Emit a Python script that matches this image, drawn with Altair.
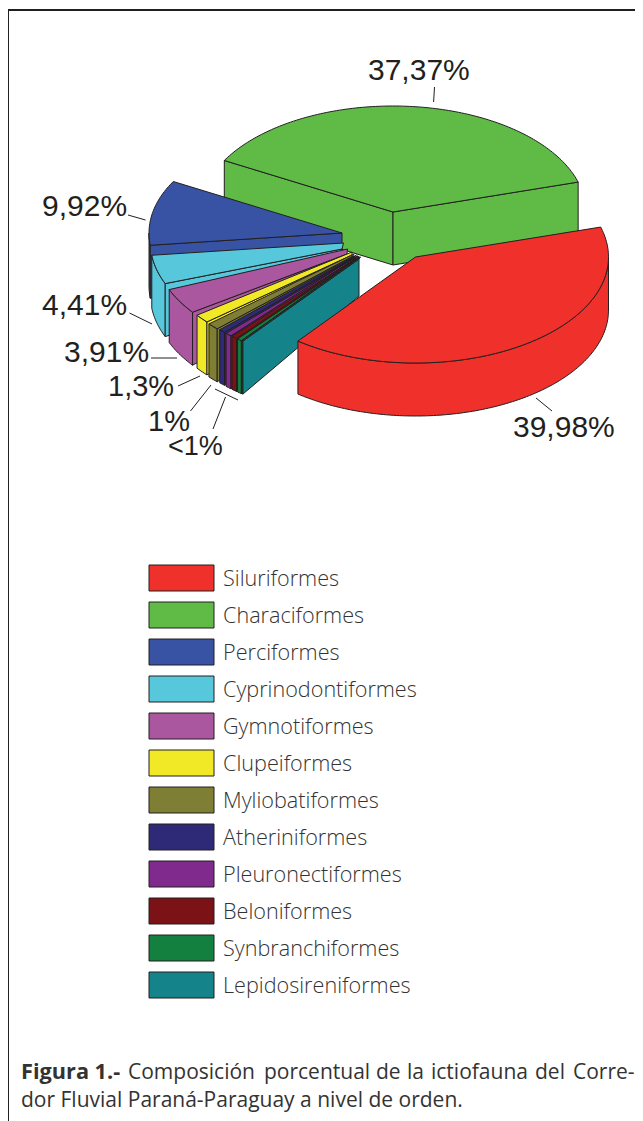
import math
import altair as alt

# ---- values ----
orders = ["Siluriformes", "Characiformes", "Perciformes", "Cyprinodontiformes", "Gymnotiformes",
          "Clupeiformes", "Myliobatiformes", "Atheriniformes", "Pleuronectiformes", "Beloniformes",
          "Synbranchiformes", "Lepidosireniformes"]
shares = [39.98, 37.37, 9.92, 4.41, 3.91, 1.3, 1.0, 0.55, 0.55, 0.5, 0.4, 0.11]
colors = ["#f0302a", "#5fbb46", "#3953a4", "#57c8dc", "#ab579f", "#f1e925", "#7e7f34",
          "#2f2a78", "#7f2a8c", "#7a1216", "#14803f", "#14848a"]
label_texts = ["37,37%", "39,98%", "9,92%", "4,41%", "3,91%", "1,3%", "1%", "<1%"]

# ---- layout (page pixels) ----
OX, OY = 8, 8
W, H = 627, 1113
RX, RY = 193.0, 106.0
DEPTH = 53.0
START = 16.4
centers = [(415.5, 257), (393, 212), (342, 233), (343.5, 243), (347.5, 249), (352, 252),
           (354, 254), (356.5, 255), (358, 256), (359, 256.5), (360, 257), (360.5, 257)]
apex_top = [None, None, None, (342, 249), (347, 254), (352, 255), (353, 256), (354, 257),
            (355, 257), (356, 258), (358, 258), (359, 259)]
apex_wall = [DEPTH, DEPTH, 30, 30, 30, 30, 30, 30, 30, 30, 30, 37]
label_pos = [(368, 80), (513, 437), (42, 216), (42, 315), (64, 362), (108, 396), (148, 431), (168, 455)]
label_size = [30, 30, 30, 30, 30, 29, 29, 27]
leaders = [(434.5, 87, 433.6, 102), (536, 398, 552, 411), (128, 215, 145.5, 220), (129.5, 313, 152, 324),
           (151, 358, 177, 358), (178, 386, 200, 376), (190.5, 411, 211, 385), (213, 429, 225.5, 397),
           (215, 389, 238, 400)]
frame_lines = [(7, 10, 643, 10), (8, 10, 8, 1121)]
cap_bold = "Figura 1.-"
cap_words = ["Composición", "porcentual", "de", "la", "ictiofauna", "del", "Corre-"]
cap_word_x = [128, 264, 376, 407, 431, 535, 573]
cap_line2 = "dor Fluvial Paraná-Paraguay a nivel de orden."


def pt(c, t, dy=0.0):
    a = math.radians(t)
    return [c[0] + RX * math.cos(a) - OX, c[1] - RY * math.sin(a) + dy - OY]


def arc(c, t1, t2, dy=0.0):
    n = max(2, int(abs(t2 - t1)) + 2)
    return [pt(c, t1 + (t2 - t1) * i / (n - 1), dy) for i in range(n)]


def feat(ring, order, rank):
    ring = ring + [ring[0]]
    return {"type": "Feature", "geometry": {"type": "Polygon", "coordinates": [ring]},
            "properties": {"order": order, "rank": rank}}


def shifted(p):
    return [p[0] - OX, p[1] - OY]


# angular span of every slice; red runs clockwise, the others counter-clockwise
spans = []
t = START
for s in shares[1:]:
    spans.append((t, t + s * 3.6))
    t += s * 3.6
red_span = (START, START - shares[0] * 3.6)

features = []
rank = 0


def add(ring, name):
    global rank
    features.append(feat(ring, name, rank))
    rank += 1


# green: both radial walls and top
c = centers[1]
t1, t2 = spans[0]
ap = shifted(c)
add([ap, pt(c, t2), pt(c, t2, DEPTH), [ap[0], ap[1] + DEPTH]], orders[1])
add([ap, pt(c, t1), pt(c, t1, DEPTH), [ap[0], ap[1] + DEPTH]], orders[1])
add([ap] + arc(c, t1, t2), orders[1])

# wedges from blue round to the last small one, painted back to front
for i in range(2, len(orders)):
    c = centers[i]
    t1, t2 = spans[i - 1]
    ap = shifted(c)
    lo = max(t1, 180)
    if t2 > 180:
        add(arc(c, lo, t2) + arc(c, t2, lo, DEPTH), orders[i])
    a2 = shifted(apex_top[i]) if apex_top[i] else ap
    add([a2, pt(c, t2), pt(c, t2, DEPTH), [a2[0], a2[1] + apex_wall[i]]], orders[i])
    add([ap] + arc(c, t1, t2) + ([a2] if apex_top[i] else []), orders[i])

# red: outer wall and top
c = centers[0]
t1, t2 = red_span
add(arc(c, 0, t2) + arc(c, t2, 0, DEPTH), orders[0])
add([shifted(c)] + arc(c, t1, t2), orders[0])

color = alt.Color("properties.order:N", scale=alt.Scale(domain=orders, range=colors), legend=None)
proj = alt.Projection(type="identity", scale=1, translate=[0, 0])

pie = alt.Chart(alt.Data(values=features)).mark_geoshape(
    stroke="#231f20", strokeWidth=1, strokeJoin="round"
).encode(color=color, order=alt.Order("properties.rank:Q")).project(**proj.to_dict())

legend_df = [{"name": n} for n in orders]
y_scale = alt.Scale(type="point", domain=orders, range=[570, 977], padding=0)
swatches = alt.Chart(alt.Data(values=legend_df)).mark_rect(
    width=65, height=26, stroke="#231f20", strokeWidth=1
).encode(
    x=alt.value(181.5 - OX),
    y=alt.Y("name:N", scale=y_scale, axis=None),
    color=alt.Color("name:N", scale=alt.Scale(domain=orders, range=colors), legend=None),
)
names = alt.Chart(alt.Data(values=legend_df)).mark_text(
    align="left", baseline="middle", font="Open Sans", fontSize=21.6, fontWeight=300, color="#333333", dy=1.5
).encode(
    x=alt.value(223 - OX),
    y=alt.Y("name:N", scale=y_scale, axis=None),
    text="name:N",
)

rules = [alt.Chart(alt.Data(values=[{"k": 1}])).mark_rule(color="#231f20", strokeWidth=1).encode(
    x=alt.value(a - OX), y=alt.value(b - OY), x2=alt.value(c_ - OX), y2=alt.value(d - OY))
    for a, b, c_, d in leaders]
frames = [alt.Chart(alt.Data(values=[{"k": 1}])).mark_rule(color="#231f20", strokeWidth=2).encode(
    x=alt.value(a - OX), y=alt.value(b - OY), x2=alt.value(c_ - OX), y2=alt.value(d - OY))
    for a, b, c_, d in frame_lines]
labels = [alt.Chart(alt.Data(values=[{"t": s}])).mark_text(
    align="left", baseline="alphabetic", font="Liberation Sans", fontSize=z, color="#231f20"
).encode(x=alt.value(p[0] - OX), y=alt.value(p[1] - OY), text="t:N")
    for s, p, z in zip(label_texts, label_pos, label_size)]


def caption(text, x, y, weight, size=21):
    return alt.Chart(alt.Data(values=[{"t": text}])).mark_text(
        align="left", baseline="alphabetic", font="Open Sans", fontSize=size, fontWeight=weight, color="#333333"
    ).encode(x=alt.value(x - OX), y=alt.value(y - OY), text="t:N")


captions = [caption(cap_bold, 21, 1079, 700, 21.7)]
captions += [caption(w, x, 1079, 400) for w, x in zip(cap_words, cap_word_x)]
captions += [caption(cap_line2, 21, 1107, 400)]

chart = alt.layer(pie, swatches, names, *rules, *frames, *labels, *captions).resolve_scale(
    color="independent"
).properties(width=W, height=H, padding=0, autosize=alt.AutoSizeParams(type="none")).configure_view(stroke=None)

chart.save("out.html", embed_options={"renderer": "svg", "actions": False})
